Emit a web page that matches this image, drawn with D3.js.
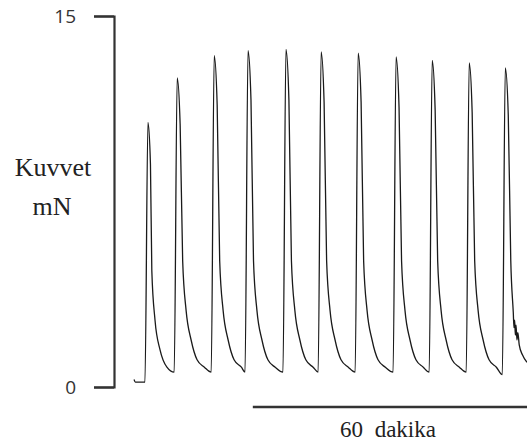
<!DOCTYPE html>
<html>
<head>
<meta charset="utf-8">
<script src="https://cdn.jsdelivr.net/npm/d3@7"></script>
<style>
  body { margin: 0; background: #fff; }
  .serif { font-family: "Liberation Serif", "Times New Roman", Times, "DejaVu Serif", serif; }
</style>
</head>
<body>
<svg id="drawing_region"></svg>
<script>
// force trace: [time (min), force (mN)]
const baseline = [[0, 0.3], [0.3, 0.2], [2.3, 0.2]];
const cycle1  = [[2.4, 0.2], [3.05, 10.7], [3.6, 9.0], [3.9, 4.7], [4.6, 2.7], [5.7, 1.5], [7.2, 0.8]];
const cycle2  = [[8.8, 0.6], [9.45, 12.5], [10.1, 10.6], [10.65, 5.1], [11.4, 3.1], [12.5, 1.9], [13.8, 1.1], [15.4, 0.8]];
const cycle3  = [[16.9, 0.6], [17.55, 13.4], [18.2, 11.4], [18.75, 5.1], [19.5, 3.1], [20.6, 1.9], [21.9, 1.1], [23.5, 0.8]];
const cycle4  = [[24.3, 0.6], [24.95, 13.6], [25.6, 11.6], [26.15, 5.1], [26.9, 3.1], [28.0, 1.9], [29.3, 1.1], [30.9, 0.8]];
const cycle5  = [[32.6, 0.6], [33.25, 13.65], [33.9, 11.6], [34.45, 5.1], [35.2, 3.1], [36.3, 1.9], [37.6, 1.1], [39.2, 0.8]];
const cycle6  = [[40.3, 0.6], [40.95, 13.55], [41.6, 11.5], [42.15, 5.1], [42.9, 3.1], [44.0, 1.9], [45.3, 1.1], [46.9, 0.8]];
const cycle7  = [[48.4, 0.6], [49.05, 13.5], [49.7, 11.5], [50.25, 5.1], [51.0, 3.1], [52.1, 1.9], [53.4, 1.1], [55.0, 0.8]];
const cycle8  = [[56.7, 0.6], [57.35, 13.35], [58.0, 11.3], [58.55, 5.1], [59.3, 3.1], [60.4, 1.9], [61.7, 1.1], [63.3, 0.8]];
const cycle9  = [[64.6, 0.6], [65.25, 13.2], [65.9, 11.2], [66.45, 5.1], [67.2, 3.1], [68.3, 1.9], [69.6, 1.1], [71.2, 0.8]];
const cycle10 = [[72.7, 0.6], [73.35, 13.1], [74.0, 11.1], [74.55, 5.1], [75.3, 3.1], [76.4, 1.9], [77.7, 1.1], [79.3, 0.8]];
const cycle11 = [[80.6, 0.5], [81.25, 12.9], [81.9, 11.0], [82.45, 5.1], [83.0, 3.0], [83.15, 2.4], [83.3, 2.7],
                 [83.45, 2.1], [83.6, 2.5], [83.8, 1.9], [84.0, 2.2], [84.3, 1.7], [85.0, 1.3], [86.0, 1.0]];

const yTicks = [0, 15];
const timeBar = [26, 86];   // 60 minute scale bar
const timeLabel = "60 dakika";
const yLabel = ["Kuvvet", "mN"];

const trace = [].concat(baseline, cycle1, cycle2, cycle3, cycle4, cycle5, cycle6,
                        cycle7, cycle8, cycle9, cycle10, cycle11);

const width = 527, height = 445;

const svg = d3.select('#drawing_region')
    .attr('width', width)
    .attr('height', height);

const xscale = d3.scaleLinear()
    .domain([0, 86])
    .range([134, 527]);

const yscale = d3.scaleLinear()
    .domain([0, 15])
    .range([387, 16]);

// force axis
const yaxis = d3.axisLeft(yscale)
    .tickValues(yTicks)
    .tickSizeInner(20)
    .tickSizeOuter(20)
    .tickPadding(18)
    .tickFormat(d3.format('d'));

const yaxis_group = svg.append('g')
    .attr('transform', 'translate(114, 0)')
    .call(yaxis);

yaxis_group.select('.domain')
    .attr('stroke', '#333')
    .attr('stroke-width', 2.2);
yaxis_group.selectAll('.tick line')
    .attr('stroke', '#333')
    .attr('stroke-width', 2.2);
yaxis_group.selectAll('.tick text')
    .attr('fill', '#333')
    .attr('font-family', '"Open Sans", sans-serif')
    .attr('font-size', '19px');

// y label
svg.append('text')
    .attr('class', 'serif')
    .attr('x', 53)
    .attr('y', 176)
    .attr('text-anchor', 'middle')
    .attr('font-size', '26px')
    .attr('fill', '#222')
    .text(yLabel[0]);

svg.append('text')
    .attr('class', 'serif')
    .attr('x', 52)
    .attr('y', 215)
    .attr('text-anchor', 'middle')
    .attr('font-size', '26px')
    .attr('fill', '#222')
    .text(yLabel[1]);

// trace
const line = d3.line()
    .x(d => xscale(d[0]))
    .y(d => yscale(d[1]))
    .curve(d3.curveMonotoneX);

svg.append('path')
    .datum(trace)
    .attr('fill', 'none')
    .attr('stroke', '#1a1a1a')
    .attr('stroke-width', 1.3)
    .attr('stroke-linejoin', 'round')
    .attr('d', line);

// time scale bar
svg.append('line')
    .attr('x1', xscale(timeBar[0]))
    .attr('x2', xscale(timeBar[1]))
    .attr('y1', 407)
    .attr('y2', 407)
    .attr('stroke', '#333')
    .attr('stroke-width', 2.5);

svg.append('text')
    .attr('class', 'serif')
    .attr('x', (xscale(timeBar[0]) + xscale(timeBar[1])) / 2 - 2)
    .attr('y', 437)
    .attr('text-anchor', 'middle')
    .attr('font-size', '23px')
    .attr('word-spacing', '6px')
    .attr('fill', '#222')
    .text(timeLabel);
</script>
</body>
</html>
